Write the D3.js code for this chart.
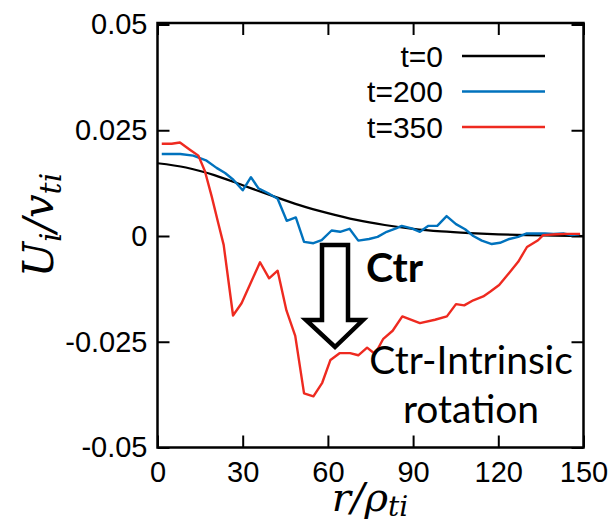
<!DOCTYPE html>
<html>
<head>
    <meta charset="utf-8">
    <title>Ui/vti profiles</title>
    <style>
        body { margin: 0; background: #fff; }
        .tick text { font-family: "Liberation Sans", Arial, sans-serif; font-size: 29px; fill: #000; }
        .tick line { stroke: #000; stroke-width: 2px; }
        .domain { display: none; }
    </style>
</head>
<body>
<script src="https://d3js.org/d3.v7.min.js"></script>
<script>
    // values
    const r0 = [0, 10, 20, 30, 40, 50, 60, 70, 80, 90, 100, 110, 120, 130, 140, 150];
    const u0 = [0.0172, 0.0162, 0.0144, 0.0120, 0.0096, 0.0073, 0.0054, 0.0038, 0.0026, 0.0017, 0.0011, 0.0007, 0.0004, 0.0002, 0.0001, 0.0000];

    const r200 = [1.5, 5, 8, 12.6, 17.3, 20.8, 23.8, 26.7, 30, 32.9, 35.5, 39, 42.3, 45.5, 48.7, 51.6, 54.9, 57.8, 61.3, 64.3, 67.6, 70.7, 74.5, 77.5, 80.7, 84, 86, 89.5, 92.4, 95.4, 98.5, 101.8, 105.1, 108.3, 111.2, 114.2, 117.7, 120.6, 123.9, 127, 130, 133, 136.4, 139.4, 142.9, 145.8, 148.5];
    const u200 = [0.0194, 0.0194, 0.0194, 0.0190, 0.0178, 0.0161, 0.0149, 0.0133, 0.0108, 0.0139, 0.0113, 0.0101, 0.0088, 0.0036, 0.0044, -0.0014, -0.0017, -0.0010, 0.0013, 0.0010, 0.0017, -0.0011, -0.0007, -0.0002, 0.0010, 0.0018, 0.0024, 0.0018, 0.0010, 0.0024, 0.0024, 0.0047, 0.0028, 0.0016, 0.0000, -0.0011, -0.0019, -0.0016, -0.0007, -0.0002, 0.0006, 0.0006, 0.0006, 0.0005, 0.0006, 0.0002, 0.0004];

    const r350 = [1.5, 5, 7.9, 11.4, 14.4, 16.7, 19.1, 21.4, 23.3, 26.6, 29.6, 36.1, 39.3, 42.3, 45.4, 48.5, 51.6, 54.9, 58, 60.9, 64.1, 67.8, 70.7, 73.8, 76.6, 79.5, 82.8, 86.2, 92.4, 97.7, 101.9, 105.1, 108, 111.2, 114.7, 117.1, 120.3, 124.1, 127, 130.1, 134, 135.8, 140.6, 144.1, 148.8];
    const u350 = [0.0218, 0.0218, 0.0221, 0.0204, 0.0190, 0.0153, 0.0093, 0.0030, -0.0021, -0.0188, -0.0159, -0.0062, -0.0100, -0.0082, -0.0176, -0.0236, -0.0372, -0.0379, -0.0347, -0.0293, -0.0277, -0.0277, -0.0282, -0.0264, -0.0279, -0.0243, -0.0224, -0.0190, -0.0206, -0.0198, -0.0190, -0.0161, -0.0164, -0.0152, -0.0143, -0.0132, -0.0116, -0.0085, -0.0061, -0.0026, -0.0010, 0.0002, 0.0004, 0.0005, 0.0005];

    const seriesNames = ["t=0", "t=200", "t=350"];
    const seriesColors = ["#000000", "#0072bd", "#ee2a20"];
    const xTicks = [0, 30, 60, 90, 120, 150];
    const yTicks = [-0.05, -0.025, 0, 0.025, 0.05];

    const width = 609, height = 523;
    const mLeft = 157.5, mRight = 583.5, mTop = 23, mBottom = 447.5;

    const svg = d3.select("body").append("svg")
        .attr("width", width)
        .attr("height", height);

    const x = d3.scaleLinear().domain([0, 150]).range([mLeft, mRight]);
    const y = d3.scaleLinear().domain([-0.05, 0.05]).range([mBottom, mTop + 1.5]);

    // axes with inward ticks
    svg.append("g")
        .attr("transform", `translate(0,${mBottom})`)
        .call(d3.axisBottom(x).tickValues(xTicks).tickSizeInner(-12).tickSizeOuter(0).tickPadding(14));
    svg.append("g")
        .attr("transform", `translate(${mLeft},0)`)
        .call(d3.axisLeft(y).tickValues(yTicks).tickFormat(d => d === 0 ? "0" : String(d))
            .tickSizeInner(-12).tickSizeOuter(0).tickPadding(10));
    // mirrored ticks on top and right
    svg.append("g")
        .attr("transform", `translate(0,${mTop})`)
        .call(d3.axisTop(x).tickValues(xTicks).tickSizeInner(-12).tickSizeOuter(0).tickFormat(""));
    svg.append("g")
        .attr("transform", `translate(${mRight},0)`)
        .call(d3.axisRight(y).tickValues(yTicks).tickSizeInner(-12).tickSizeOuter(0).tickFormat(""));

    svg.append("rect")
        .attr("x", mLeft).attr("y", mTop)
        .attr("width", mRight - mLeft).attr("height", mBottom - mTop)
        .attr("fill", "none").attr("stroke", "#000").attr("stroke-width", 2.5);

    const lineSmooth = d3.line().x(d => x(d[0])).y(d => y(d[1])).curve(d3.curveMonotoneX);
    const lineRaw = d3.line().x(d => x(d[0])).y(d => y(d[1]));

    svg.append("path").datum(d3.zip(r0, u0))
        .attr("d", lineSmooth).attr("fill", "none")
        .attr("stroke", seriesColors[0]).attr("stroke-width", 2.2);
    svg.append("path").datum(d3.zip(r200, u200))
        .attr("d", lineRaw).attr("fill", "none")
        .attr("stroke", seriesColors[1]).attr("stroke-width", 2.4).attr("stroke-linejoin", "round");
    svg.append("path").datum(d3.zip(r350, u350))
        .attr("d", lineRaw).attr("fill", "none")
        .attr("stroke", seriesColors[2]).attr("stroke-width", 2.4).attr("stroke-linejoin", "round");

    // legend
    const legend = svg.append("g");
    seriesNames.forEach((name, i) => {
        const ly = 56 + i * 35.5;
        legend.append("text")
            .attr("x", 443).attr("y", ly)
            .attr("dy", "0.35em")
            .attr("text-anchor", "end")
            .style("font-family", "Liberation Sans, Arial, sans-serif")
            .style("font-size", "30px")
            .text(name);
        legend.append("line")
            .attr("x1", 462).attr("x2", 545)
            .attr("y1", ly).attr("y2", ly)
            .attr("stroke", seriesColors[i]).attr("stroke-width", 2.4);
    });

    // hollow down arrow
    const arrowPts = [[322, 245], [348, 245], [348, 320], [363, 320], [335, 347], [306, 320], [322, 320]];
    svg.append("path")
        .attr("d", d3.line()(arrowPts) + "Z")
        .attr("fill", "#fff").attr("stroke", "#000").attr("stroke-width", 4.5)
        .attr("stroke-linejoin", "miter");

    svg.append("text")
        .attr("x", 366).attr("y", 282)
        .style("font-family", "Lato, 'Open Sans', sans-serif")
        .style("font-weight", "bold")
        .style("font-size", "41px")
        .text("Ctr");

    svg.append("text")
        .attr("x", 471).attr("y", 374)
        .attr("text-anchor", "middle")
        .style("font-family", "Lato, 'Open Sans', sans-serif")
        .style("font-size", "39px")
        .text("Ctr-Intrinsic");
    svg.append("text")
        .attr("x", 471).attr("y", 423)
        .attr("text-anchor", "middle")
        .style("font-family", "Lato, 'Open Sans', sans-serif")
        .style("font-size", "39px")
        .text("rotation");

    // axis titles
    const xt = svg.append("text")
        .attr("x", 370).attr("y", 511)
        .attr("text-anchor", "middle")
        .style("font-family", "'DejaVu Serif', 'Liberation Serif', serif")
        .style("font-style", "italic")
        .style("font-size", "40px");
    xt.append("tspan").text("r/ρ");
    xt.append("tspan").attr("dy", 5).style("font-size", "28px").text("ti");

    const yt = svg.append("text")
        .attr("transform", "translate(53,225) rotate(-90)")
        .attr("text-anchor", "middle")
        .style("font-family", "'DejaVu Serif', 'Liberation Serif', serif")
        .style("font-style", "italic")
        .style("font-size", "42px");
    yt.append("tspan").text("U");
    yt.append("tspan").attr("dy", 8).style("font-size", "30px").text("i");
    yt.append("tspan").attr("dy", -8).text("/v");
    yt.append("tspan").attr("dy", 8).style("font-size", "30px").text("ti");
</script>
</body>
</html>
